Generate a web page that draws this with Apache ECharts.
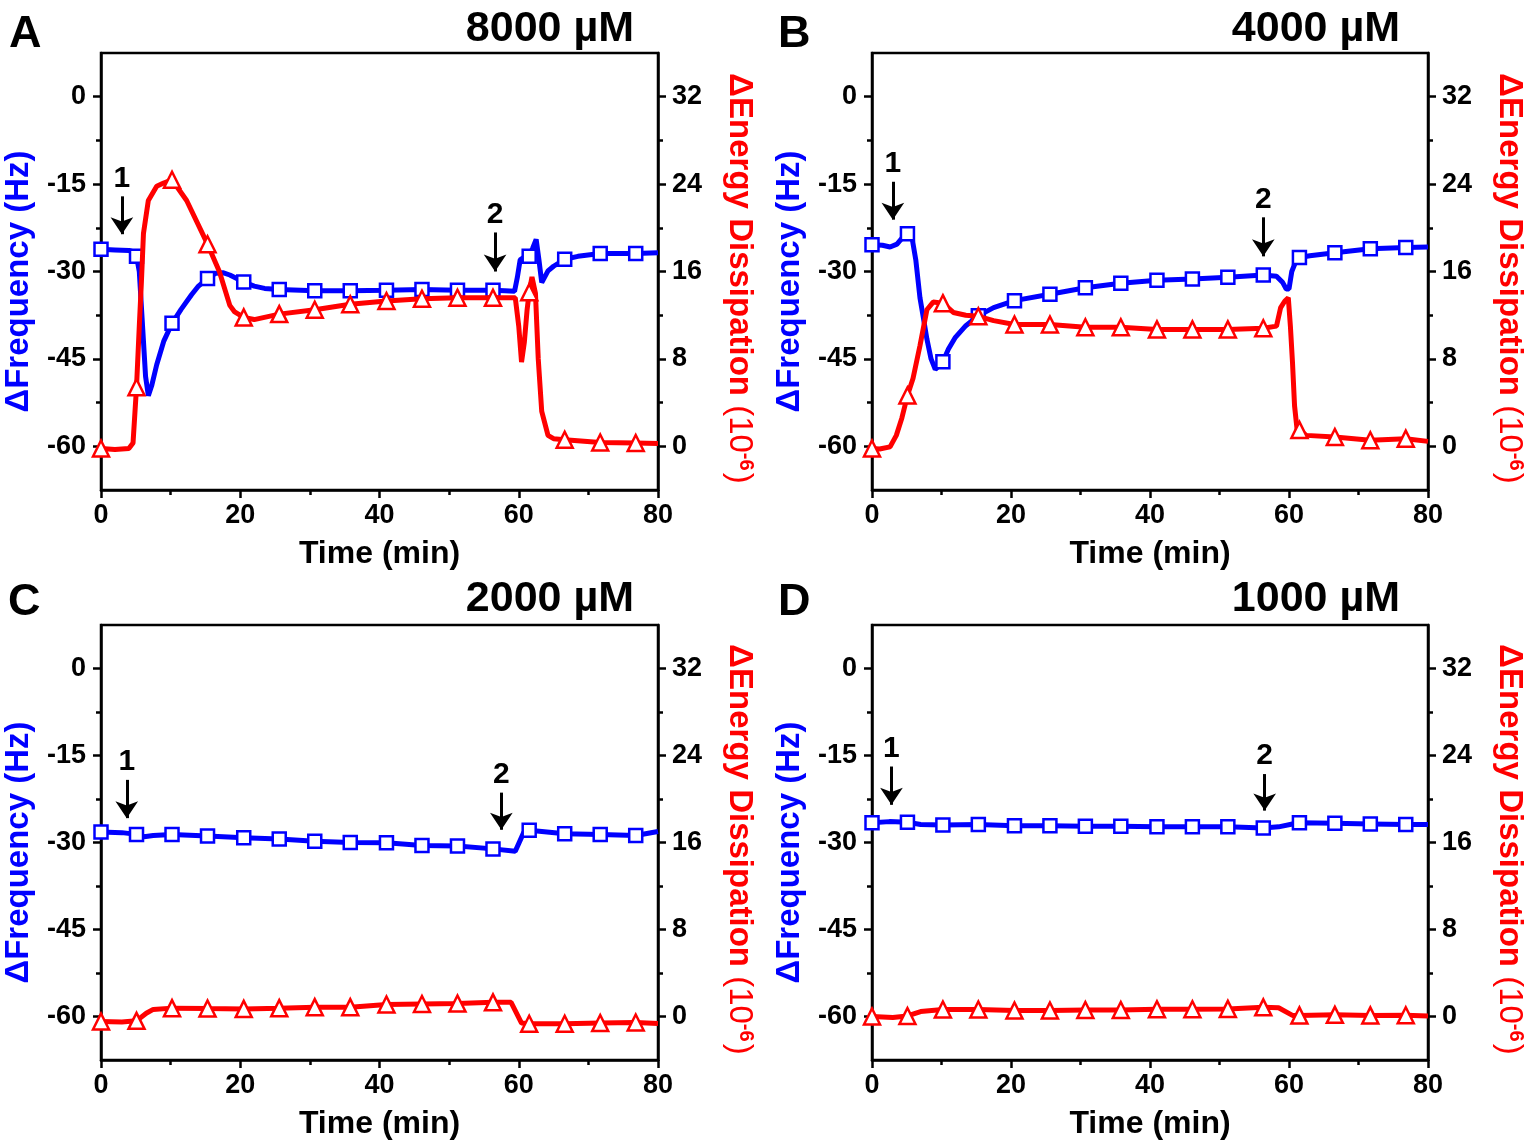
<!DOCTYPE html>
<html><head><meta charset="utf-8">
<script src="https://cdn.jsdelivr.net/npm/echarts@6/dist/echarts.min.js"></script>
<style>html,body{margin:0;padding:0;background:#fff}#c{width:1534px;height:1145px}</style>
</head><body><div id="c"></div>
<script>
// marker (symbol) times shared by all traces
const markerTimes = [0,5.1,10.2,15.3,20.5,25.6,30.7,35.8,41,46.1,51.2,56.3,61.5,66.6,71.7,76.8];

// Panel A — 8000 µM
const aFreqT = [0,2,4,4.6,5.1,5.5,6.0,6.4,6.8,7.3,8,9,10.2,11.5,13,14,15.3,16.5,17.5,18.5,19.5,20.5,22,23.5,25.6,30.7,35.8,41,46.1,51.2,56.3,58,59.4,59.8,60.2,60.8,61.5,62.0,62.5,62.9,63.3,64.2,65,66.6,68.5,71.7,76.8,80];
const aFreqV = [-26.2,-26.3,-26.4,-26.6,-27.4,-30,-40,-48,-51.3,-49.5,-46,-42,-38.9,-36.5,-34,-32.5,-31.2,-30.3,-30.2,-30.6,-31.2,-31.8,-32.5,-32.9,-33.1,-33.3,-33.3,-33.2,-33.1,-33.2,-33.2,-33.3,-33.4,-31,-28,-27.5,-27.4,-26,-24.5,-28,-31.9,-29.9,-29.1,-27.9,-27.4,-26.9,-26.9,-26.8];
const aDissT = [0,2,4,4.6,5.1,5.5,5.8,6.1,6.8,8,9,10.2,12.3,15.3,17,18.5,19.2,20.5,22,25.6,30.7,35.8,41,46.1,51.2,56.3,59.5,60.0,60.4,60.8,61.2,61.5,61.9,62.4,62.8,63.3,64.2,65,66.6,71.7,76.8,80];
const aDissV = [-0.2,-0.3,-0.2,0.3,5.4,11,15,19.5,22.5,23.8,24.1,24.4,22.5,18.5,16.0,12.9,12.3,11.8,11.6,12.1,12.5,13.0,13.3,13.5,13.6,13.6,13.6,11,7.7,9.5,12.5,14.1,15.5,14.0,8,3.2,1.0,0.7,0.6,0.35,0.3,0.25];

// Panel B — 4000 µM
const bFreqT = [0,1.5,2.6,3.6,4.5,5.1,5.8,6.3,6.9,7.4,7.9,8.5,9.1,10.2,11,12,13.5,15.3,17.5,20.5,25.6,30.7,35.8,41,46.1,51.2,56.3,58.2,59.1,59.6,60.0,60.4,60.9,61.5,63,66.6,71.7,76.8,80];
const bFreqV = [-25.4,-25.5,-25.8,-25.3,-24.0,-23.5,-24.5,-28,-34.5,-38,-41.6,-45,-46.8,-45.5,-43.3,-41.3,-39.3,-37.6,-36.2,-35.0,-33.9,-32.8,-32.0,-31.5,-31.3,-31.0,-30.6,-30.8,-31.9,-33.0,-33.0,-30,-28.5,-27.6,-27.3,-26.8,-26.1,-25.9,-25.8];
const bDissT = [0,1.1,2.6,3.5,4.3,5.1,5.9,6.9,7.9,8.8,10.2,11.7,13.5,15.3,17.5,20.5,25.6,30.7,35.8,41,46.1,51.2,56.3,58.2,58.8,59.4,59.9,60.2,60.5,60.8,61.2,61.5,62.5,66.6,71.7,76.8,80];
const bDissV = [-0.2,-0.25,-0.05,1.0,2.6,4.65,6.2,9.2,12.5,13.2,13.1,12.25,12.0,11.9,11.5,11.15,11.15,10.9,10.9,10.7,10.7,10.7,10.8,11.0,12.7,13.3,13.6,11,7.7,3.7,1.3,1.5,1.0,0.85,0.55,0.7,0.45];

// Panel C — 2000 µM
const cFreqT = [0,3,5.1,6.2,7.5,10.2,15.3,20.5,25.6,30.7,35.8,41,46.1,51.2,56.3,59.5,60.7,61.5,66.6,71.7,76.8,80];
const cFreqV = [-28.2,-28.3,-28.6,-29.0,-28.8,-28.6,-28.9,-29.2,-29.4,-29.8,-30.0,-30.05,-30.5,-30.6,-31.1,-31.5,-28.3,-27.9,-28.5,-28.6,-28.8,-28.1];
const cDissT = [0,3,5.1,6.5,7.5,10.2,15.3,20.5,25.6,30.7,35.8,41,46.1,51.2,56.3,58.9,60.4,61.5,66.6,71.7,76.8,80];
const cDissV = [-0.46,-0.5,-0.4,0.3,0.65,0.77,0.73,0.7,0.77,0.86,0.86,1.1,1.15,1.2,1.3,1.3,-0.6,-0.67,-0.67,-0.6,-0.55,-0.65];

// Panel D — 1000 µM
const dFreqT = [0,2.5,5.1,7,10.2,15.3,20.5,25.6,30.7,35.8,41,46.1,51.2,56.3,58.5,60.5,61.5,66.6,71.7,76.8,80];
const dFreqV = [-26.6,-26.4,-26.5,-26.9,-27.0,-26.9,-27.1,-27.1,-27.2,-27.2,-27.3,-27.3,-27.3,-27.5,-27.3,-26.8,-26.6,-26.7,-26.8,-26.9,-26.9];
const dDissT = [0,3,5.1,7,10.2,15.3,20.5,25.6,30.7,35.8,41,46.1,51.2,56.3,58.5,60.5,61.5,66.6,71.7,76.8,80];
const dDissV = [0,-0.1,0.05,0.45,0.64,0.64,0.55,0.55,0.6,0.6,0.67,0.67,0.7,0.84,0.8,0.1,0.1,0.15,0.1,0.12,0.05];

// injection arrows (label, time, shaft start / tip on the frequency axis)
const arrowsA = [{label:'1', t:3.0, from:-17.1, to:-23.6}, {label:'2', t:56.6, from:-23.3, to:-30.0}];
const arrowsB = [{label:'1', t:3.0, from:-14.6, to:-21.1}, {label:'2', t:56.3, from:-20.7, to:-27.4}];
const arrowsC = [{label:'1', t:3.7, from:-19.2, to:-25.8}, {label:'2', t:57.5, from:-21.4, to:-27.8}];
const arrowsD = [{label:'1', t:2.8, from:-16.9, to:-23.5}, {label:'2', t:56.5, from:-18.2, to:-24.5}];

// tick labels
const freqTicks = [-60,-45,-30,-15,0];
const freqMinor = [-52.5,-37.5,-22.5,-7.5];
const dissTicks = [0,8,16,24,32];
const dissMinor = [4,12,20,28];

const FONT = '"Liberation Sans", Arial, sans-serif';
const BLUE = '#0000ff', RED = '#ff0000';

const panels = [
  {letter:'A', conc:'8000 µM', left:101, top:53, width:557, height:437, fT:aFreqT, fV:aFreqV, dT:aDissT, dV:aDissV, arrows:arrowsA, lx:9, ly:12, cx:634, cy:8},
  {letter:'B', conc:'4000 µM', left:872, top:53, width:556, height:437, fT:bFreqT, fV:bFreqV, dT:bDissT, dV:bDissV, arrows:arrowsB, lx:778, ly:12, cx:1400, cy:8},
  {letter:'C', conc:'2000 µM', left:101, top:625, width:557, height:435, fT:cFreqT, fV:cFreqV, dT:cDissT, dV:cDissV, arrows:arrowsC, lx:8, ly:580, cx:634, cy:578},
  {letter:'D', conc:'1000 µM', left:872, top:625, width:556, height:435, fT:dFreqT, fV:dFreqV, dT:dDissT, dV:dDissV, arrows:arrowsD, lx:778, ly:580, cx:1400, cy:578}
];

function build(T, V, sym) {
  return T.map((t, i) => ({value:[t, V[i]], symbol: markerTimes.indexOf(t) >= 0 ? sym : 'none'}));
}

const axisLine = {show:true, onZero:false, lineStyle:{color:'#000', width:2.5}};
const tickLabel = {color:'#000', fontSize:27, fontWeight:'bold', fontFamily:FONT};

const grid = [], xAxis = [], yAxis = [], series = [], graphic = [];
panels.forEach((p, i) => {
  grid.push({left:p.left, top:p.top, width:p.width, height:p.height, show:true, borderColor:'#000', borderWidth:2.5, backgroundColor:'transparent'});
  xAxis.push({
    gridIndex:i, type:'value', min:0, max:80, interval:20,
    axisLine, splitLine:{show:false},
    axisTick:{show:true, inside:false, length:8, lineStyle:{color:'#000', width:2.5}},
    minorTick:{show:true, splitNumber:2, length:5, lineStyle:{color:'#000', width:2.5}},
    minorSplitLine:{show:false},
    axisLabel:Object.assign({margin:12}, tickLabel),
    name:'Time (min)', nameLocation:'middle', nameGap:48,
    nameTextStyle:{color:'#000', fontSize:32, fontWeight:'bold', fontFamily:FONT}
  });
  yAxis.push({
    gridIndex:i, type:'value', position:'left', min:-67.5, max:7.5,
    axisLine, splitLine:{show:false},
    axisTick:{show:true, inside:false, length:8, customValues:freqTicks, lineStyle:{color:'#000', width:2.5}},
    axisLabel:Object.assign({margin:15, customValues:freqTicks}, tickLabel),
    name:'ΔFrequency (Hz)', nameLocation:'middle', nameGap:66, nameRotate:90,
    nameTextStyle:{color:BLUE, fontSize:33, fontWeight:'bold', fontFamily:FONT, padding:[0,20,0,0]}
  });
  yAxis.push({
    gridIndex:i, type:'value', position:'left', min:-67.5, max:7.5,
    axisLine:{show:false}, splitLine:{show:false}, axisLabel:{show:false},
    axisTick:{show:true, inside:false, length:5, customValues:freqMinor, lineStyle:{color:'#000', width:2.5}}
  });
  yAxis.push({
    gridIndex:i, type:'value', position:'right', min:-4, max:36,
    axisLine, splitLine:{show:false},
    axisTick:{show:true, inside:false, length:8, customValues:dissTicks, lineStyle:{color:'#000', width:2.5}},
    axisLabel:Object.assign({margin:14, customValues:dissTicks}, tickLabel),
    name:'{b|ΔEnergy Dissipation }{p|(10}{s|-6}{p|)}', nameLocation:'middle', nameGap:64, nameRotate:-90,
    nameTextStyle:{color:RED, fontFamily:FONT, padding:[0,0,0,14], rich:{
      b:{color:RED, fontSize:33, fontWeight:'bold', fontFamily:FONT},
      p:{color:RED, fontSize:33, fontWeight:'normal', fontFamily:FONT},
      s:{color:RED, fontSize:20, fontWeight:'bold', fontFamily:FONT, verticalAlign:'top', padding:[0,2,14,0]}
    }}
  });
  yAxis.push({
    gridIndex:i, type:'value', position:'right', min:-4, max:36,
    axisLine:{show:false}, splitLine:{show:false}, axisLabel:{show:false},
    axisTick:{show:true, inside:false, length:5, customValues:dissMinor, lineStyle:{color:'#000', width:2.5}}
  });

  series.push({
    type:'line', xAxisIndex:i, yAxisIndex:4*i, data:build(p.fT, p.fV, 'rect'),
    showSymbol:true, showAllSymbol:true, symbolSize:13, silent:true, animation:false, z:2,
    lineStyle:{color:BLUE, width:5}, itemStyle:{color:'#fff', borderColor:BLUE, borderWidth:2.5},
    emphasis:{disabled:true},
    markLine:{
      silent:true, animation:false, symbol:['none','arrow'], symbolSize:17,
      lineStyle:{color:'#000', width:3, type:'solid'},
      label:{show:true, position:'start', distance:3, formatter:(q) => q.name, color:'#000', fontSize:30, fontWeight:'bold', fontFamily:FONT},
      emphasis:{disabled:true},
      data:p.arrows.map(a => [{coord:[a.t, a.from], name:a.label}, {coord:[a.t, a.to]}])
    }
  });
  series.push({
    type:'line', xAxisIndex:i, yAxisIndex:4*i+2, data:build(p.dT, p.dV, 'triangle'),
    showSymbol:true, showAllSymbol:true, symbolSize:16, silent:true, animation:false, z:3,
    lineStyle:{color:RED, width:5}, itemStyle:{color:'#fff', borderColor:RED, borderWidth:2.5},
    emphasis:{disabled:true}
  });

  graphic.push({type:'text', x:p.lx, y:p.ly, style:{text:p.letter, font:'bold 45px ' + FONT, fill:'#000', verticalAlign:'top'}});
  graphic.push({type:'text', x:p.cx, y:p.cy, style:{text:p.conc, font:'bold 43px ' + FONT, fill:'#000', align:'right', verticalAlign:'top'}});
});

const chart = echarts.init(document.getElementById('c'), null, {renderer:'canvas'});
chart.setOption({animation:false, backgroundColor:'#fff', grid, xAxis, yAxis, series, graphic});
</script>
</body></html>
